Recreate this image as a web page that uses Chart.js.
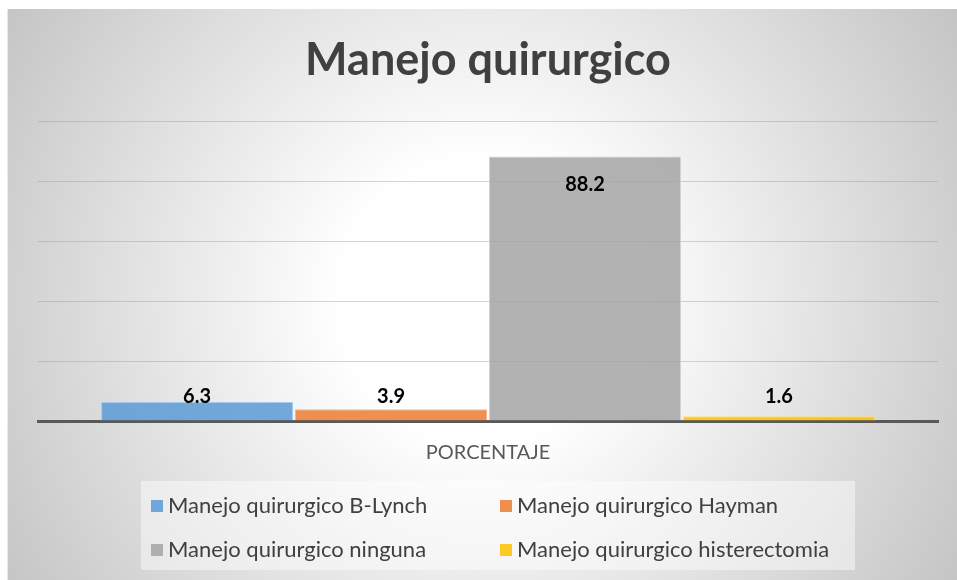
<!DOCTYPE html>
<html>
<head>
<meta charset="utf-8">
<script src="https://cdn.jsdelivr.net/npm/chart.js@4"></script>
<style>
  html, body { margin: 0; padding: 0; background: #fff; }
  #wrap { position: relative; width: 957px; height: 580px; }
</style>
</head>
<body>
<div id="wrap"><canvas id="chart" width="957" height="580"></canvas></div>
<script>
// Manejo quirurgico - grouped bars, one category
var CATEGORIES = ['PORCENTAJE'];
var SERIES_NAMES = [
  'Manejo quirurgico B-Lynch',
  'Manejo quirurgico Hayman',
  'Manejo quirurgico ninguna',
  'Manejo quirurgico histerectomia'
];
var SERIES_VALUES = [6.3, 3.9, 88.2, 1.6];
var Y_TICKS = [0, 20, 40, 60, 80, 100];

var COLORS = [
  'rgba(91,155,213,0.85)',
  'rgba(237,125,49,0.85)',
  'rgba(165,165,165,0.85)',
  'rgba(255,192,0,0.85)'
];
var BORDERS = [
  'rgba(160,200,235,0.9)',
  'rgba(245,175,130,0.9)',
  'rgba(205,205,205,0.9)',
  'rgba(255,220,120,0.9)'
];

var FONT = 'Lato, "Open Sans", sans-serif';

// radial grey background of the chart frame
var backgroundPlugin = {
  id: 'bg',
  beforeDraw: function (chart) {
    var ctx = chart.ctx;
    var x0 = 7, y0 = 9, w = 950, h = 571;
    var g = ctx.createRadialGradient(480, 300, 0, 480, 300, 560);
    g.addColorStop(0, '#ffffff');
    g.addColorStop(0.25, '#ffffff');
    g.addColorStop(1, '#c4c4c4');
    ctx.save();
    ctx.fillStyle = g;
    ctx.fillRect(x0, y0, w, h);
    ctx.fillStyle = 'rgba(255,255,255,0.6)';
    ctx.fillRect(x0, y0, 1, h);
    ctx.restore();
  }
};

// value labels (Excel style: inside end, pushed up for short bars)
var valueLabels = {
  id: 'valueLabels',
  afterDatasetsDraw: function (chart) {
    var ctx = chart.ctx;
    ctx.save();
    ctx.font = 'bold 20px ' + FONT;
    ctx.fillStyle = '#000';
    ctx.textAlign = 'center';
    ctx.textBaseline = 'middle';
    chart.data.datasets.forEach(function (ds, i) {
      var meta = chart.getDatasetMeta(i);
      meta.data.forEach(function (bar, j) {
        var y = Math.min(bar.y + 28, bar.base - 24);
        ctx.fillText(ds.data[j].toFixed(1), bar.x, y);
      });
    });
    ctx.restore();
  }
};

// two-column legend box under the axis
var boxLegend = {
  id: 'boxLegend',
  afterDraw: function (chart) {
    var ctx = chart.ctx;
    var cols = [151, 500], rows = [506, 550];
    ctx.save();
    ctx.fillStyle = 'rgba(255,255,255,0.45)';
    ctx.fillRect(141, 481, 714, 89);
    ctx.font = '22px ' + FONT;
    ctx.textBaseline = 'middle';
    ctx.textAlign = 'left';
    chart.data.datasets.forEach(function (ds, i) {
      var x = cols[i % 2], y = rows[Math.floor(i / 2)];
      ctx.fillStyle = ds.backgroundColor;
      ctx.fillRect(x, y - 6, 12, 12);
      ctx.fillStyle = '#404040';
      ctx.fillText(ds.label, x + 17, y);
    });
    ctx.restore();
  }
};

var datasets = SERIES_NAMES.map(function (name, i) {
  return {
    label: name,
    data: [SERIES_VALUES[i]],
    backgroundColor: COLORS[i],
    borderColor: BORDERS[i],
    borderWidth: 1,
    categoryPercentage: 0.862,
    barPercentage: 0.99
  };
});

new Chart(document.getElementById('chart').getContext('2d'), {
  type: 'bar',
  data: { labels: CATEGORIES, datasets: datasets },
  plugins: [backgroundPlugin, valueLabels, boxLegend],
  options: {
    responsive: false,
    animation: false,
    layout: { padding: { left: 38, right: 19, top: 10, bottom: 95 } },
    plugins: {
      legend: { display: false },
      tooltip: { enabled: false },
      title: {
        display: true,
        text: 'Manejo quirurgico',
        color: '#404040',
        font: { family: FONT, size: 45, weight: 'bold', lineHeight: 1.2 },
        padding: { top: 23, bottom: 34 }
      }
    },
    scales: {
      x: {
        grid: { display: false, drawTicks: false },
        border: { display: true, color: '#595959', width: 3 },
        ticks: { color: '#595959', font: { family: FONT, size: 20 }, padding: 20 }
      },
      y: {
        min: Y_TICKS[0],
        max: Y_TICKS[Y_TICKS.length - 1],
        afterBuildTicks: function (axis) {
          axis.ticks = Y_TICKS.map(function (v) { return { value: v }; });
        },
        grid: { color: 'rgba(150,150,150,0.4)', drawTicks: false },
        border: { display: false },
        ticks: { display: false }
      }
    }
  }
});
</script>
</body>
</html>
